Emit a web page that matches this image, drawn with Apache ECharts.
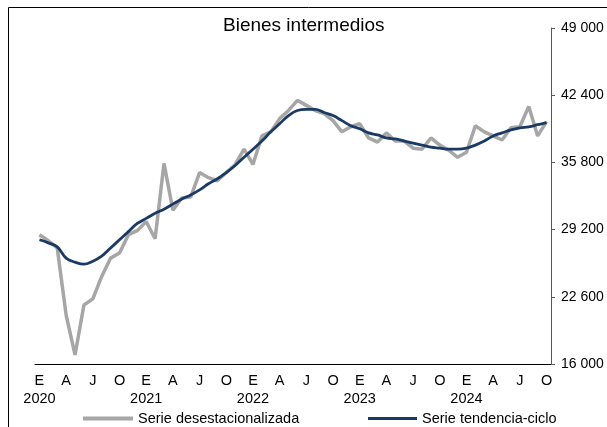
<!DOCTYPE html>
<html>
<head>
<meta charset="utf-8">
<script src="https://cdn.jsdelivr.net/npm/echarts@6/dist/echarts.min.js"></script>
<style>
  html, body { margin: 0; padding: 0; background: #fff; }
  #chart { width: 607px; height: 427px; }
</style>
</head>
<body>
<div id="chart"></div>
<script>
(function() {
  var years = ['2020', '2021', '2022', '2023', '2024'];
  var monthLetters = ['E', 'F', 'M', 'A', 'M', 'J', 'J', 'A', 'S', 'O', 'N', 'D'];
  var monthCount = 58; // enero 2020 a octubre 2024

  var desestacionalizada = [
    28700, 28100, 27400, 20800, 16900, 21800, 22400, 24600, 26400, 26900, 28700, 29100,
    30000, 28300, 35700, 31100, 32300, 32400, 34800, 34300, 34000, 34800, 35600, 37100,
    35600, 38400, 38800, 40100, 40900, 41900, 41400, 40900, 40600, 39900, 38800, 39300,
    39600, 38200, 37800, 38700, 37900, 37900, 37200, 37100, 38200, 37500, 37000, 36300,
    36800, 39400, 38800, 38400, 38000, 39200, 39300, 41300, 38400, 39800
  ];
  var tendenciaCiclo = [
    28200, 27900, 27500, 26400, 26000, 25800, 26100, 26600, 27400, 28200, 29000, 29800,
    30300, 30800, 31200, 31700, 32200, 32600, 33100, 33700, 34200, 34800, 35500, 36300,
    37100, 37900, 38800, 39600, 40400, 40900, 41000, 41000, 40700, 40400, 39900, 39400,
    39100, 38700, 38500, 38200, 38100, 37900, 37700, 37500, 37300, 37200, 37100, 37100,
    37200, 37500, 37900, 38400, 38700, 39000, 39200, 39300, 39500, 39700
  ];
  var yTicks = [16000, 22600, 29200, 35800, 42400, 49000];

  var categories = [];
  for (var i = 0; i < monthCount; i++) {
    categories.push(years[Math.floor(i / 12)] + '-' + (i % 12 + 1));
  }

  var gray = '#a6a6a6';
  var navy = '#1a3a66';
  var font = 'Liberation Sans, Arial, sans-serif';

  var chart = echarts.init(document.getElementById('chart'), null, { renderer: 'canvas' });

  function yearTick(idx) { return idx % 12 === 0; }

  chart.setOption({
    animation: false,
    backgroundColor: '#fff',
    title: {
      text: 'Bienes intermedios',
      left: 218,
      top: 11,
      textStyle: { fontFamily: font, fontSize: 19, fontWeight: 'normal', color: '#000' }
    },
    graphic: [{
      type: 'rect',
      shape: { x: 8.5, y: 7.5, width: 700, height: 500 },
      style: { fill: 'none', stroke: '#000', lineWidth: 1 },
      silent: true
    }],
    legend: [{
      data: ['Serie desestacionalizada'],
      left: 78,
      top: 406,
      icon: 'rect',
      itemWidth: 50,
      itemHeight: 4,
      itemGap: 5,
      textStyle: { fontFamily: font, fontSize: 14.5, color: '#000' }
    }, {
      data: ['Serie tendencia-ciclo'],
      left: 363,
      top: 406,
      icon: 'rect',
      itemWidth: 49,
      itemHeight: 3,
      textStyle: { fontFamily: font, fontSize: 14.5, color: '#000' }
    }],
    grid: { left: 35, right: 56, top: 28, bottom: 63 },
    xAxis: [{
      type: 'category',
      data: categories,
      boundaryGap: true,
      axisLine: { lineStyle: { color: '#000', width: 1 } },
      axisTick: { interval: yearTick, length: 6, lineStyle: { color: '#000' } },
      axisLabel: {
        interval: 2,
        margin: 8,
        fontFamily: font,
        fontSize: 14.5,
        color: '#000',
        lineHeight: 18,
        formatter: function(v, idx) {
          var letter = monthLetters[idx % 12];
          if (idx % 12 === 0) return letter + '\n' + years[Math.floor(idx / 12)];
          return letter;
        }
      },
      splitLine: { show: false }
    }, {
      type: 'category',
      data: categories,
      boundaryGap: true,
      position: 'bottom',
      axisLine: { show: false },
      axisTick: { inside: true, interval: yearTick, length: 6, lineStyle: { color: '#000' } },
      axisLabel: { show: false },
      splitLine: { show: false }
    }],
    yAxis: {
      type: 'value',
      position: 'right',
      min: yTicks[0],
      max: yTicks[yTicks.length - 1],
      interval: yTicks[1] - yTicks[0],
      axisLine: { show: true, lineStyle: { color: '#595959', width: 1 } },
      axisTick: { show: true, length: 4, lineStyle: { color: '#595959' } },
      axisLabel: {
        margin: 10,
        fontFamily: font,
        fontSize: 14,
        color: '#000',
        formatter: function(v) {
          return String(v).replace(/\B(?=(\d{3})+(?!\d))/g, ' ');
        }
      },
      splitLine: { show: false }
    },
    series: [{
      name: 'Serie desestacionalizada',
      type: 'line',
      data: desestacionalizada,
      symbol: 'none',
      lineStyle: { color: gray, width: 3.5 },
      itemStyle: { color: gray },
      z: 2
    }, {
      name: 'Serie tendencia-ciclo',
      type: 'line',
      data: tendenciaCiclo,
      symbol: 'none',
      smooth: 0.4,
      lineStyle: { color: navy, width: 2.8 },
      itemStyle: { color: navy },
      z: 3
    }]
  });

  window.addEventListener('resize', function() { chart.resize(); });
})();
</script>
</body>
</html>
